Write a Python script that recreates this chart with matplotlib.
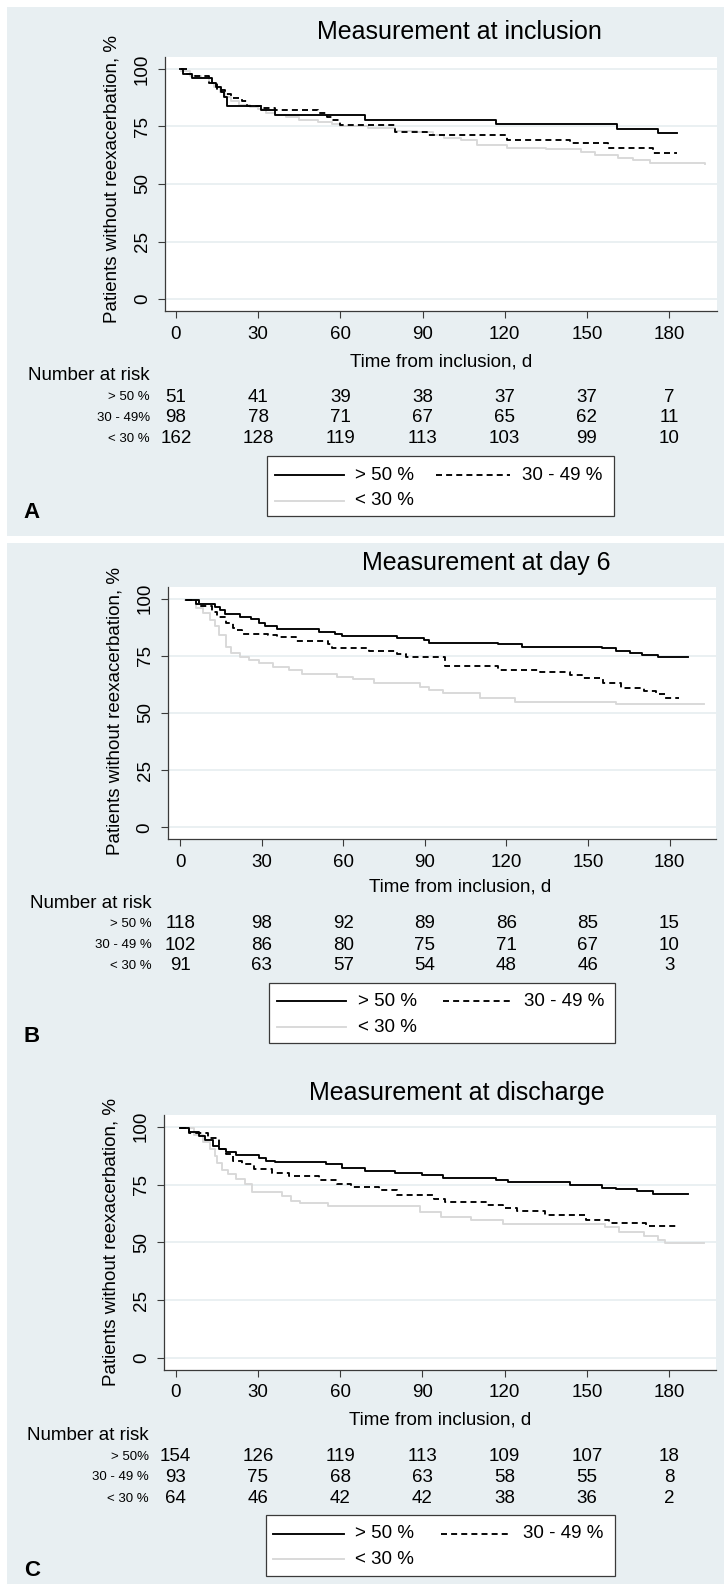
import matplotlib
matplotlib.use('Agg')
import matplotlib.pyplot as plt
from matplotlib.patches import Rectangle
from matplotlib.lines import Line2D
import matplotlib.transforms as mtransforms

plt.rcParams['font.family'] = ['Liberation Sans', 'DejaVu Sans']

# ---------------- data ----------------
titles = ["Measurement at inclusion", "Measurement at day 6", "Measurement at discharge"]
panel_letters = ["A", "B", "C"]
group_names = ["> 50 %", "30 - 49 %", "< 30 %"]
risk_row_labels = [["> 50 %", "30 - 49%", "< 30 %"],
                   ["> 50 %", "30 - 49 %", "< 30 %"],
                   ["> 50%", "30 - 49 %", "< 30 %"]]
risk_times = [0, 30, 60, 90, 120, 150, 180]
x_ticks = [0, 30, 60, 90, 120, 150, 180]
y_ticks = [0, 25, 50, 75, 100]
x_label = "Time from inclusion, d"
y_label = "Patients without reexacerbation, %"

# Panel A (inclusion)
A_hi_t = [1.5, 2.5, 6, 13, 14.5, 16.5, 17.5, 18.5, 31, 36, 69, 117, 161, 176, 183]
A_hi_s = [100, 98, 96, 94, 92, 90, 88, 84, 82, 80, 78, 76, 74, 72, 72]
A_mid_t = [2, 4, 7, 12, 15, 18, 20, 24, 26, 31, 36, 52, 55, 57, 60, 80, 91.6, 121, 143.8, 157.7, 174, 183]
A_mid_s = [100, 98, 97, 94, 91, 89, 87.5, 86, 84, 83, 82, 81, 79, 78, 75.5, 72.7, 71.3, 69.1, 67.7, 65.5, 63.6, 63.6]
A_lo_t = [2, 5, 9, 12, 14, 16, 18, 20, 23, 27, 30, 33, 36, 40, 45, 52, 57, 60, 70, 80,
          88, 94, 98, 104, 110, 121, 135, 148, 153, 161.5, 167, 173, 193]
A_lo_s = [99, 97, 96, 94, 92, 90, 88, 86, 84.5, 83.5, 82.5, 81, 80, 79, 78, 77, 76, 75, 74.5, 73,
          72.5, 71.3, 70, 69, 67, 65.6, 65, 64, 62.7, 61.2, 60.5, 59, 58.7]
A_risk_hi = [51, 41, 39, 38, 37, 37, 7]
A_risk_mid = [98, 78, 71, 67, 65, 62, 11]
A_risk_lo = [162, 128, 119, 113, 103, 99, 10]

# Panel B (day 6)
B_hi_t = [2, 6, 12.7, 14.5, 16.5, 22, 26, 29, 31.4, 35.7, 51, 57, 59.5, 79.8, 89.7, 91.7,
          117, 125.7, 155, 160.5, 165.6, 170, 175.8, 186.8]
B_hi_s = [99.4, 97.5, 96.5, 94.8, 93.1, 92.1, 91.1, 89.2, 87.8, 86.7, 85.6, 84.4, 83.8, 82.9, 81.9, 80.8,
          80, 79, 78.3, 77.3, 76.1, 75.4, 74.5, 74.5]
B_mid_t = [2, 6.8, 11.9, 13.6, 17, 19.5, 20.4, 22.9, 32.3, 35.7, 42.5, 54.3, 55.9, 69.6, 79.8, 83.2,
           97.6, 117, 132.4, 143.5, 147.7, 155.4, 162.2, 170.7, 174.9, 178.3, 183.4]
B_mid_s = [99.4, 96.8, 94.3, 92.1, 89.2, 87, 86.3, 84.5, 84.1, 83.1, 81.6, 80, 78.3, 77.1, 75.7, 74.6,
           70.7, 68.8, 67.8, 66.6, 65.2, 63, 60.8, 59.8, 58.2, 56.7, 56.7]
B_lo_t = [1.7, 5.9, 8.5, 11, 12.7, 14.4, 17, 18.7, 22.1, 25.5, 28.9, 34, 39.9, 45, 57.7, 63.7,
          71.3, 88.3, 91.7, 96.8, 110.4, 123.1, 160.5, 192.7]
B_lo_s = [99.4, 95.8, 93.6, 90.7, 87.8, 84.1, 79, 76.1, 74.6, 73.2, 71.7, 70.3, 68.8, 67, 65.9, 64.7,
          63.3, 61.5, 60.1, 58.6, 56.4, 55, 53.9, 53.9]
B_risk_hi = [118, 98, 92, 89, 86, 85, 15]
B_risk_mid = [102, 86, 80, 75, 71, 67, 10]
B_risk_lo = [91, 63, 57, 54, 48, 46, 3]

# Panel C (discharge)
C_hi_t = [1.7, 5, 8.4, 10.9, 13.5, 16, 18.5, 21.9, 30.3, 32.8, 36.2, 54.7, 60.6, 69, 79.9, 90,
          97.6, 116.9, 121.1, 143.8, 155.6, 160.7, 168.2, 174.1, 186.7]
C_hi_s = [99.5, 97.7, 96.2, 94.2, 91.9, 90.4, 88.9, 87.8, 86.3, 85.4, 84.7, 83.9, 82, 81, 80.1, 79,
          78, 77, 76, 74.9, 73.7, 72.9, 72.2, 71.1, 71.1]
C_mid_t = [1.7, 5, 11.8, 16, 18.5, 21, 24.4, 28.6, 35.3, 41.2, 52.2, 58.9, 63.9, 74, 80.8, 94.2,
           98.4, 113.6, 119.4, 124.5, 134.6, 149.7, 158.1, 171.6, 182.5]
C_mid_s = [99.5, 97.3, 95, 90.4, 88.1, 85.1, 83.9, 81.6, 80.1, 78.6, 77, 75.2, 74, 72.5, 70.7, 68.8,
           67.3, 66.1, 64.9, 63.4, 61.9, 59.7, 58.5, 57.3, 57.3]
C_lo_t = [1.7, 6.7, 10.1, 12.6, 14.3, 15.1, 16.8, 19.3, 21.9, 25.2, 27.8, 38.7, 42.1, 45.4, 55.5, 89.2,
          96.7, 107.7, 119.4, 156.5, 161.5, 170.8, 175.8, 178.3, 192.6]
C_lo_s = [99.5, 96.5, 93.5, 90.4, 87.4, 84.3, 81.3, 79.8, 77.5, 75.2, 71.9, 69.9, 68.1, 66.9, 65.7, 63.1,
          60.8, 59.7, 57.8, 56.5, 54.7, 52.7, 50.9, 49.7, 49.7]
C_risk_hi = [154, 126, 119, 113, 109, 107, 18]
C_risk_mid = [93, 75, 68, 63, 58, 55, 8]
C_risk_lo = [64, 46, 42, 42, 38, 36, 2]

curves = [
    [(A_hi_t, A_hi_s), (A_mid_t, A_mid_s), (A_lo_t, A_lo_s)],
    [(B_hi_t, B_hi_s), (B_mid_t, B_mid_s), (B_lo_t, B_lo_s)],
    [(C_hi_t, C_hi_s), (C_mid_t, C_mid_s), (C_lo_t, C_lo_s)],
]
risks = [
    [A_risk_hi, A_risk_mid, A_risk_lo],
    [B_risk_hi, B_risk_mid, B_risk_lo],
    [C_risk_hi, C_risk_mid, C_risk_lo],
]

# ---------------- layout (pixels) ----------------
W, H = 724, 1591
def fx(x): return x / W
def fy(y): return 1 - y / H

layout = [
    dict(ax=(165, 57, 717, 311), xlim=(-4.0, 197.5), ylim=(-5.2, 105.2),
         title=(459, 32), ylab=(112, 179), xlab=(441, 362), nar=(150, 375),
         rows=[397, 418, 438.5], leg=(267, 456, 614, 516), legrows=[475, 501],
         legx=(275, 344, 355, 436, 510, 522), letter=(32, 512)),
    dict(ax=(167.6, 586.7, 716, 839.3), xlim=(-4.6, 197.1), ylim=(-5.25, 105.2),
         title=(486, 563), ylab=(115, 711), xlab=(460, 887), nar=(152, 903),
         rows=[924, 945, 966], leg=(269, 983, 615, 1043), legrows=[1001, 1027],
         legx=(277, 346, 358, 443, 510, 524), letter=(32, 1037)),
    dict(ax=(164, 1115, 716, 1369.6), xlim=(-4.2, 197.0), ylim=(-5.0, 105.1),
         title=(457, 1093), ylab=(111, 1242), xlab=(440, 1420), nar=(149, 1435),
         rows=[1456.5, 1477.5, 1498.5], leg=(265.5, 1515, 615, 1576), legrows=[1534, 1559],
         legx=(273, 344, 355, 441, 510, 523), letter=(32, 1571)),
]

BG = '#e8eff2'
GRID = '#e6edf0'
LO_COLOR = '#d8d8d8'
AXC = '#3a3a3a'
FS = 13.5

fig = plt.figure(figsize=(W / 100, H / 100), dpi=100)
fig.patch.set_facecolor('white')
fig.patches.append(Rectangle((fx(7), fy(536)), (W - 7) / W, (536 - 7) / H,
                             transform=fig.transFigure, facecolor=BG, edgecolor='none', zorder=-10))
fig.patches.append(Rectangle((fx(7), fy(1584)), (W - 7) / W, (1584 - 543) / H,
                             transform=fig.transFigure, facecolor=BG, edgecolor='none', zorder=-10))

styles = [dict(color='black', lw=1.35, ls='-'),
          dict(color='black', lw=1.35, ls=(0, (3.2, 2.2))),
          dict(color=LO_COLOR, lw=1.35, ls='-')]

for p in range(3):
    L = layout[p]
    x0, y0, x1, y1 = L['ax']
    ax = fig.add_axes([fx(x0), fy(y1), (x1 - x0) / W, (y1 - y0) / H])
    ax.set_facecolor('white')
    ax.set_xlim(*L['xlim'])
    ax.set_ylim(*L['ylim'])
    ax.set_xticks(x_ticks)
    ax.set_yticks(y_ticks)
    ax.set_axisbelow(True)
    ax.grid(axis='y', color=GRID, lw=1.2)
    ax.grid(axis='x', visible=False)
    for s in ['top', 'right']:
        ax.spines[s].set_visible(False)
    for s in ['left', 'bottom']:
        ax.spines[s].set_color(AXC)
        ax.spines[s].set_linewidth(0.9)
    ax.tick_params(axis='both', colors=AXC, labelcolor='black', length=5, width=0.8,
                   labelsize=FS)
    ax.tick_params(axis='x', pad=5.5)
    ax.tick_params(axis='y', labelrotation=90, pad=5)
    for lab in ax.get_yticklabels():
        lab.set_va('center')

    # curves (lo first so black on top)
    for g in [2, 1, 0]:
        t, s = curves[p][g]
        ax.step(t, s, where='post', color=styles[g]['color'], lw=styles[g]['lw'],
                ls=styles[g]['ls'], zorder=3 - g * 0.1)

    # texts
    fig.text(fx(L['title'][0]), fy(L['title'][1]), titles[p], fontsize=18,
             ha='center', va='center')
    fig.text(fx(L['ylab'][0]), fy(L['ylab'][1]), y_label, fontsize=FS, rotation=90,
             ha='center', va='center')
    fig.text(fx(L['xlab'][0]), fy(L['xlab'][1]), x_label, fontsize=FS,
             ha='center', va='center')
    fig.text(fx(L['nar'][0]), fy(L['nar'][1]), "Number at risk", fontsize=FS,
             ha='right', va='center')
    trans = mtransforms.blended_transform_factory(ax.transData, fig.transFigure)
    for r in range(3):
        yy = fy(L['rows'][r])
        fig.text(fx(L['nar'][0]), yy, risk_row_labels[p][r], fontsize=9.5,
                 ha='right', va='center')
        for tt, val in zip(risk_times, risks[p][r]):
            ax.text(tt, yy, str(val), transform=trans, fontsize=FS,
                    ha='center', va='center', clip_on=False)

    # legend box
    lx0, ly0, lx1, ly1 = L['leg']
    fig.patches.append(Rectangle((fx(lx0), fy(ly1)), (lx1 - lx0) / W, (ly1 - ly0) / H,
                                 transform=fig.transFigure, facecolor='white',
                                 edgecolor=AXC, lw=0.9, zorder=1))
    a1, a2, at, b1, b2, bt = L['legx']
    r1, r2 = L['legrows']
    entries = [(a1, a2, at, r1, 0), (b1, b2, bt, r1, 1), (a1, a2, at, r2, 2)]
    for (u1, u2, ut, ry, g) in entries:
        fig.add_artist(Line2D([fx(u1), fx(u2)], [fy(ry), fy(ry)], transform=fig.transFigure,
                              color=styles[g]['color'], lw=styles[g]['lw'], ls=styles[g]['ls'],
                              zorder=2))
        fig.text(fx(ut), fy(ry), group_names[g], fontsize=FS, ha='left', va='center', zorder=3)

    fig.text(fx(L['letter'][0]), fy(L['letter'][1]), panel_letters[p], fontsize=16,
             fontweight='bold', ha='center', va='center')

fig.savefig('out.png', dpi=100, facecolor=fig.get_facecolor())
